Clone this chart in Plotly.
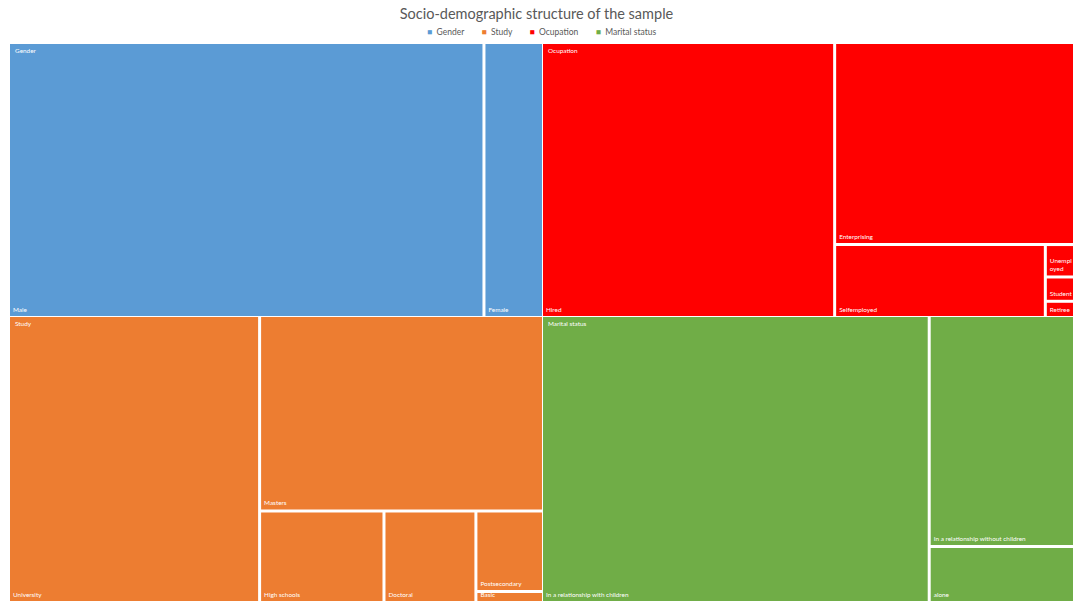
import plotly.graph_objects as go

# Socio-demographic breakdown of the sample (respondent counts per group)
categories = ["Gender", "Study", "Ocupation", "Marital status"]
colors = ["#5B9BD5", "#ED7D31", "#FF0000", "#70AD47"]

gender_labels = ["Male", "Female"]
gender_values = [551, 69]

study_labels = ["University", "Masters", "High schools", "Doctoral", "Postsecondary", "Basic"]
study_values = [291, 224, 46, 34, 22, 3]

ocupation_labels = ["Hired", "Enterprising", "Selfemployed", "Unemployed", "Student", "Retiree"]
ocupation_values = [341, 205, 65, 4, 3, 2]

marital_labels = ["In a relationship with children", "In a relationship without children", "alone"]
marital_values = [451, 136, 33]

# Text shown inside the tiles (narrow tiles get a manual line break)
display_text = {"Unemployed": "Unempl<br>oyed"}

groups = [
    (gender_labels, gender_values),
    (study_labels, study_values),
    (ocupation_labels, ocupation_values),
    (marital_labels, marital_values),
]

FONT = "Lato, Open Sans, sans-serif"
LABEL_SIZE = 6.4

# 2x2 grid of panels: Gender / Ocupation on top, Study / Marital status below
W, H = 1063, 557
col_x = [[0, 532 / W], [533 / W, 1]]
row_y = [[285 / H, 1], [0, 284 / H]]
panel = {"Gender": (0, 0), "Ocupation": (1, 0), "Study": (0, 1), "Marital status": (1, 1)}

fig = go.Figure()
annotations = []
for cat, col, (labs, vals) in zip(categories, colors, groups):
    ci, ri = panel[cat]
    dx, dy = col_x[ci], row_y[ri]
    ids = [cat] + [cat + "/" + l for l in labs]
    fig.add_trace(go.Treemap(
        ids=ids,
        labels=[cat] + labs,
        parents=[""] + [cat] * len(labs),
        values=[sum(vals)] + vals,
        branchvalues="total",
        text=[""] + [display_text.get(l, l) for l in labs],
        textinfo="text",
        textposition="bottom left",
        textfont=dict(family=FONT, size=LABEL_SIZE, color="white"),
        # group box is white so the gaps between tiles read as white rules
        marker=dict(colors=["white"] + [col] * len(labs),
                    line=dict(color="white", width=0),
                    pad=dict(t=0, l=0, r=0, b=0)),
        tiling=dict(packing="squarify"),
        pathbar=dict(visible=False),
        sort=True,
        domain=dict(x=dx, y=dy),
        hoverinfo="label+value",
    ))
    annotations.append(dict(
        text=cat, x=dx[0], y=dy[1], xref="paper", yref="paper",
        xanchor="left", yanchor="top", xshift=3, yshift=-1, showarrow=False,
        font=dict(family=FONT, size=LABEL_SIZE, color="white"),
    ))

# Compact legend row under the title
legend_text = "        ".join(
    f"<span style='color:{col}'>■</span>  {cat}" for cat, col in zip(categories, colors)
)
annotations.append(dict(
    text=legend_text, x=0.5, y=1, xref="paper", yref="paper",
    xanchor="center", yanchor="middle", yshift=12, showarrow=False,
    font=dict(family=FONT, size=8.5, color="#595959"),
))

fig.update_layout(
    width=1073, height=601,
    margin=dict(l=10, r=0, t=44, b=0),
    paper_bgcolor="white",
    showlegend=False,
    uniformtext=dict(minsize=LABEL_SIZE, mode="show"),
    title=dict(text="Socio-demographic structure of the sample",
               x=0.5, xanchor="center", y=1 - 14 / 601, yanchor="middle",
               font=dict(family=FONT, size=14.5, color="#595959")),
    annotations=annotations,
)

fig.write_html("out.html")
